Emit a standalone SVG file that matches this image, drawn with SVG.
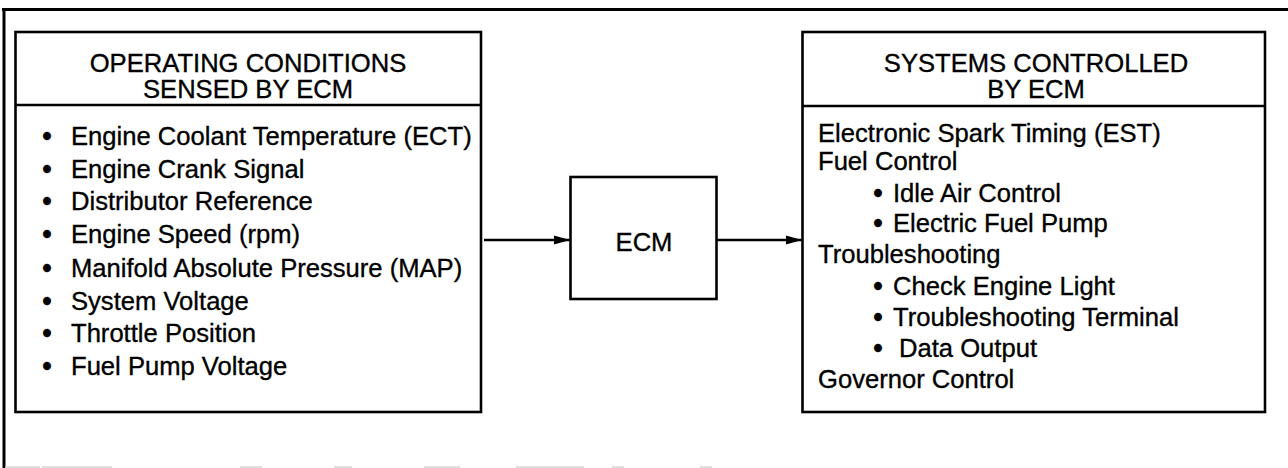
<svg xmlns="http://www.w3.org/2000/svg" width="1288" height="468" viewBox="0 0 1288 468">
  <defs>
    <style>
      .t { font-family: "Liberation Sans", Arial, sans-serif; font-size: 25.6px; fill: #000; stroke: #000; stroke-width: 0.35px; }
      .c { text-anchor: middle; }
      .b { font-size: 27px; font-weight: bold; }
      .box { fill: #fff; stroke: #000; stroke-width: 2.6; }
      .div { stroke: #000; stroke-width: 2.4; }
      .frame { stroke: #000; fill: none; }
      .conn { stroke: #000; stroke-width: 2.6; fill: none; }
      .faint { stroke: #d6d6d6; stroke-width: 1.5; fill: none; }
    </style>
    <marker id="arrow" markerWidth="17" markerHeight="12" refX="16" refY="6" orient="auto" markerUnits="userSpaceOnUse">
      <path d="M0,1.5 L16,6 L0,10.5 Z" fill="#000"/>
    </marker>
  </defs>
  <rect width="1288" height="468" fill="#fff"/>

  <g id="frame">
    <line class="frame" x1="2" y1="9.5" x2="1288" y2="9.5" stroke-width="2.8"/>
    <line class="frame" x1="4" y1="8" x2="4" y2="468" stroke-width="3"/>
    <path class="faint" d="M5,467 H40 M42,467 H112 M240,467 H262 M334,467 H352 M424,467 H460 M516,467 H584 M612,467 H624 M700,467 H712"/>
  </g>

  <g id="sensed">
    <rect class="box" x="15.5" y="32" width="465.5" height="380"/>
    <line class="div" x1="15.5" y1="105" x2="481" y2="105"/>
    <text class="t c" x="248" y="72">OPERATING CONDITIONS</text>
    <text class="t c" x="248" y="98">SENSED BY ECM</text>
    <g class="t">
      <text class="c b" x="47" y="145">•</text><text x="71" y="145">Engine Coolant Temperature (ECT)</text>
      <text class="c b" x="47" y="178">•</text><text x="71" y="178">Engine Crank Signal</text>
      <text class="c b" x="47" y="210">•</text><text x="71" y="210">Distributor Reference</text>
      <text class="c b" x="47" y="243">•</text><text x="71" y="243">Engine Speed (rpm)</text>
      <text class="c b" x="47" y="277">•</text><text x="71" y="277">Manifold Absolute Pressure (MAP)</text>
      <text class="c b" x="47" y="310">•</text><text x="71" y="310">System Voltage</text>
      <text class="c b" x="47" y="342">•</text><text x="71" y="342">Throttle Position</text>
      <text class="c b" x="47" y="375">•</text><text x="71" y="375">Fuel Pump Voltage</text>
    </g>
  </g>

  <g id="ecm">
    <rect class="box" x="570.5" y="177" width="146" height="122"/>
    <text class="t c" x="644" y="251">ECM</text>
  </g>

  <g id="controlled">
    <rect class="box" x="802.5" y="32" width="462.5" height="380"/>
    <line class="div" x1="802.5" y1="106" x2="1265" y2="106"/>
    <text class="t c" x="1036" y="72">SYSTEMS CONTROLLED</text>
    <text class="t c" x="1036" y="98">BY ECM</text>
    <g class="t">
      <text x="818" y="142">Electronic Spark Timing (EST)</text>
      <text x="818" y="170">Fuel Control</text>
      <text class="c b" x="878" y="202">•</text><text x="893" y="202">Idle Air Control</text>
      <text class="c b" x="878" y="232">•</text><text x="893" y="232">Electric Fuel Pump</text>
      <text x="818" y="263">Troubleshooting</text>
      <text class="c b" x="878" y="295">•</text><text x="893" y="295">Check Engine Light</text>
      <text class="c b" x="878" y="326">•</text><text x="893" y="326">Troubleshooting Terminal</text>
      <text class="c b" x="878" y="357">•</text><text x="899" y="357">Data Output</text>
      <text x="818" y="388">Governor Control</text>
    </g>
  </g>

  <g id="connectors">
    <line class="conn" x1="484" y1="240" x2="570" y2="240" marker-end="url(#arrow)"/>
    <line class="conn" x1="717" y1="240" x2="802" y2="240" marker-end="url(#arrow)"/>
  </g>
</svg>
